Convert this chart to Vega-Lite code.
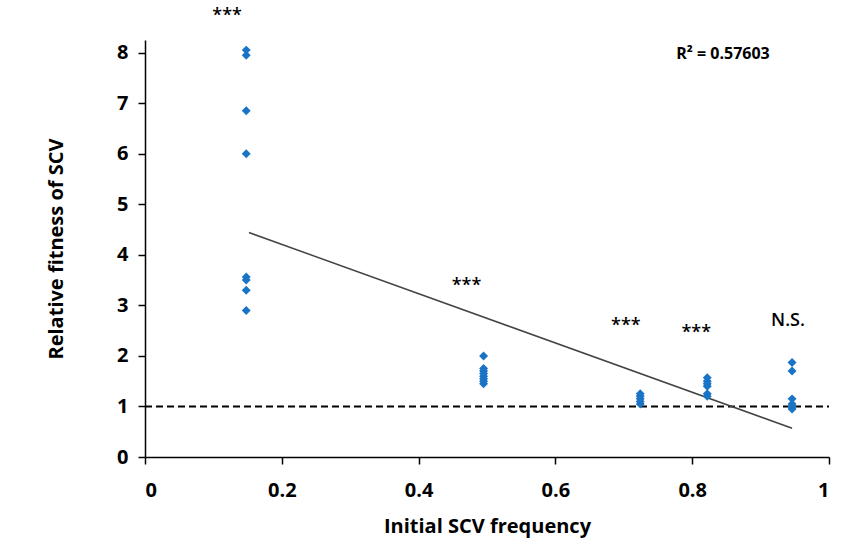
{
  "$schema": "https://vega.github.io/schema/vega-lite/v6.json",
  "width": 684,
  "height": 417,
  "autosize": {"type": "none"},
  "padding": {"left": 145, "top": 40, "right": 20, "bottom": 102},
  "background": "white",
  "config": {"view": {"stroke": null}, "font": "Open Sans"},
  "datasets": {
    "pts": [
      {"freq": 0.148, "fitness": 8.05}, {"freq": 0.148, "fitness": 7.95}, {"freq": 0.148, "fitness": 6.85}, {"freq": 0.148, "fitness": 6.0},
      {"freq": 0.148, "fitness": 3.56}, {"freq": 0.148, "fitness": 3.5}, {"freq": 0.148, "fitness": 3.3}, {"freq": 0.148, "fitness": 2.9},
      {"freq": 0.495, "fitness": 2.0}, {"freq": 0.495, "fitness": 1.75}, {"freq": 0.495, "fitness": 1.7}, {"freq": 0.495, "fitness": 1.65},
      {"freq": 0.495, "fitness": 1.6}, {"freq": 0.495, "fitness": 1.55}, {"freq": 0.495, "fitness": 1.5}, {"freq": 0.495, "fitness": 1.45},
      {"freq": 0.724, "fitness": 1.25}, {"freq": 0.724, "fitness": 1.2}, {"freq": 0.724, "fitness": 1.15}, {"freq": 0.724, "fitness": 1.1}, {"freq": 0.724, "fitness": 1.05},
      {"freq": 0.822, "fitness": 1.57}, {"freq": 0.822, "fitness": 1.5}, {"freq": 0.822, "fitness": 1.45}, {"freq": 0.822, "fitness": 1.4}, {"freq": 0.822, "fitness": 1.25}, {"freq": 0.822, "fitness": 1.2},
      {"freq": 0.946, "fitness": 1.87}, {"freq": 0.946, "fitness": 1.7}, {"freq": 0.946, "fitness": 1.15}, {"freq": 0.946, "fitness": 1.05}, {"freq": 0.946, "fitness": 1.0}, {"freq": 0.946, "fitness": 0.95}
    ],
    "trend": [{"freq": 0.152, "fitness": 4.44}, {"freq": 0.946, "fitness": 0.57}],
    "ref": [{"freq": 0, "fitness": 1}, {"freq": 1, "fitness": 1}],
    "notes": [
      {"freq": 0.12, "fitness": 8.72, "label": "***"},
      {"freq": 0.47, "fitness": 3.38, "label": "***"},
      {"freq": 0.703, "fitness": 2.6, "label": "***"},
      {"freq": 0.806, "fitness": 2.45, "label": "***"},
      {"freq": 0.94, "fitness": 2.7, "label": "N.S."}
    ],
    "r2": [{"freq": 0.845, "fitness": 7.97, "label": "R² = 0.57603"}]
  },
  "encoding": {
    "x": {"field": "freq", "type": "quantitative", "scale": {"domain": [0, 1], "nice": false},
      "axis": {"title": "Initial SCV  frequency", "values": [0, 0.2, 0.4, 0.6, 0.8, 1], "format": "~g", "grid": false,
        "domainColor": "black", "domainWidth": 1.5, "tickColor": "black", "tickWidth": 1.5, "tickSize": 7,
        "labelFont": "Open Sans", "labelFontWeight": "bold", "labelFontSize": 20, "labelColor": "black", "labelPadding": 16,
        "titleFont": "Open Sans", "titleFontWeight": "bold", "titleFontSize": 20, "titleColor": "black", "titlePadding": 16}},
    "y": {"field": "fitness", "type": "quantitative", "scale": {"domain": [0, 8.25], "nice": false},
      "axis": {"title": "Relative fitness of SCV", "values": [0, 1, 2, 3, 4, 5, 6, 7, 8], "grid": false,
        "domainColor": "black", "domainWidth": 1.5, "tickColor": "black", "tickWidth": 1.5, "tickSize": 7,
        "labelFont": "Open Sans", "labelFontWeight": "bold", "labelFontSize": 20, "labelColor": "black", "labelPadding": 10,
        "titleFont": "Open Sans", "titleFontWeight": "bold", "titleFontSize": 20, "titleColor": "black", "titlePadding": 50}}
  },
  "layer": [
    {"data": {"name": "ref"}, "mark": {"type": "line", "color": "black", "strokeDash": [7, 4], "strokeWidth": 2}},
    {"data": {"name": "trend"}, "mark": {"type": "line", "color": "#444444", "strokeWidth": 1.5}},
    {"data": {"name": "pts"}, "mark": {"type": "point", "shape": "diamond", "filled": true, "color": "#1a74c6", "size": 80, "opacity": 1}},
    {"data": {"name": "notes"}, "mark": {"type": "text", "font": "Open Sans", "fontSize": 18, "fontWeight": 600, "color": "black", "clip": false}, "encoding": {"text": {"field": "label"}}},
    {"data": {"name": "r2"}, "mark": {"type": "text", "font": "Open Sans", "fontSize": 16, "fontWeight": "bold", "color": "black"}, "encoding": {"text": {"field": "label"}}}
  ]
}
